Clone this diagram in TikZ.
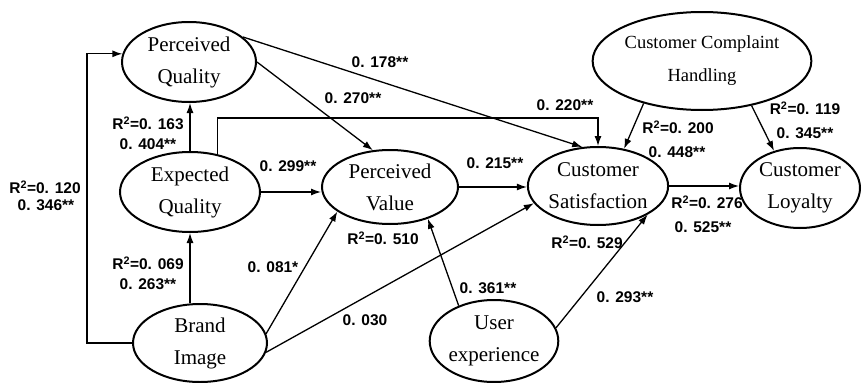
\documentclass[tikz,border=0pt]{standalone}
\usepackage{fontspec}
\setmainfont{Liberation Serif}
\newfontfamily\lab{Liberation Sans}
\usetikzlibrary{shapes.geometric,arrows.meta,calc}
\begin{document}
\begin{tikzpicture}[x=1pt,y=-1pt,
 lat/.style={ellipse,draw,line width=2pt,inner sep=0pt,align=center,font=\fontsize{21}{32}\selectfont},
 arr/.style={line width=1.3pt,-{Latex[length=10pt,width=7pt]}},
 lbl/.style={font=\lab\bfseries\fontsize{15.5}{17}\selectfont,inner sep=0pt}]
\useasboundingbox (0,0) rectangle (863,383);
\fill[white] (0,0) rectangle (863,383);
% nodes
\node[lat,minimum width=134pt,minimum height=80pt] (pq) at (189,62) {Perceived\\Quality};
\node[lat,minimum width=140pt,minimum height=80pt] (eq) at (190,192) {Expected\\Quality};
\node[lat,minimum width=136pt,minimum height=74pt] (pv) at (390,187) {Perceived\\Value};
\node[lat,minimum width=134pt,minimum height=78pt] (bi) at (200,343) {Brand\\Image};
\node[lat,minimum width=132pt,minimum height=78pt] (cs) at (598,186) {Customer\\Satisfaction};
\node[lat,minimum width=120pt,minimum height=80pt] (cl) at (800,188) {Customer\\Loyalty};
\node[lat,minimum width=154pt,minimum height=98pt,font=\fontsize{18.5}{33}\selectfont] (cch) at (702,61) {Customer Complaint\\Handling};
\node[lat,minimum width=128pt,minimum height=82pt] (ue) at (494,341) {User\\experience};
% helper coordinates
\coordinate (bl) at (87,343);
\coordinate (tr) at (598,118);
% connectors
\draw[arr] (bi.west) -- (bl) |- (pq.173);
\draw[arr] (eq.south |- bi.north) -- (eq.south);
\draw[arr] (eq.north) -- (eq.north |- pq.south);
\draw[arr] (eq.east) -- (pv.west |- eq.east);
\draw[arr] (eq.54) |- (tr) -- (cs.north);
\draw[arr] (pq.east) -- (pv.115);
\draw[arr] (pq.25) -- (cs.112);
\draw[arr] (pv.east) -- (cs.west |- pv.east);
\draw[arr] (bi.8) -- (pv.205);
\draw[arr] (bi.352) -- (cs.195);
\draw[arr] (ue.135) -- (pv.320);
\draw[arr] (ue.12) -- (cs.330);
\draw[arr] (cs.east) -- (cl.west |- cs.east);
\draw[arr] (cch.216) -- (cs.55);
\draw[arr] (cch.318) -- (cl.125);
% labels
\node[lbl] (l1) at (380,62) {0. 178**};
\node[lbl] (l2) at (353,98) {0. 270**};
\node[lbl] (l3) at (148,123) {R\textsuperscript{2}=0. 163};
\node[lbl] (l4) at (148,144) {0. 404**};
\node[lbl] (l5) at (288,166) {0. 299**};
\node[lbl] (l6) at (565,105) {0. 220**};
\node[lbl] (l7) at (495,163) {0. 215**};
\node[lbl] (l8) at (45,187) {R\textsuperscript{2}=0. 120};
\node[lbl] (l9) at (46,205) {0. 346**};
\node[lbl] (l10) at (148,263) {R\textsuperscript{2}=0. 069};
\node[lbl] (l11) at (148,284) {0. 263**};
\node[lbl] (l12) at (273,267) {0. 081*};
\node[lbl] (l13) at (383,238) {R\textsuperscript{2}=0. 510};
\node[lbl] (l14) at (365,320) {0. 030};
\node[lbl] (l15) at (488,288) {0. 361**};
\node[lbl] (l16) at (587,242) {R\textsuperscript{2}=0. 529};
\node[lbl] (l17) at (625,297) {0. 293**};
\node[lbl] (l18) at (678,127) {R\textsuperscript{2}=0. 200};
\node[lbl] (l19) at (677,152) {0. 448**};
\node[lbl] (l20) at (805,108) {R\textsuperscript{2}=0. 119};
\node[lbl] (l21) at (805,133) {0. 345**};
\node[lbl] (l22) at (707,202) {R\textsuperscript{2}=0. 276};
\node[lbl] (l23) at (703,227) {0. 525**};
\end{tikzpicture}
\end{document}
